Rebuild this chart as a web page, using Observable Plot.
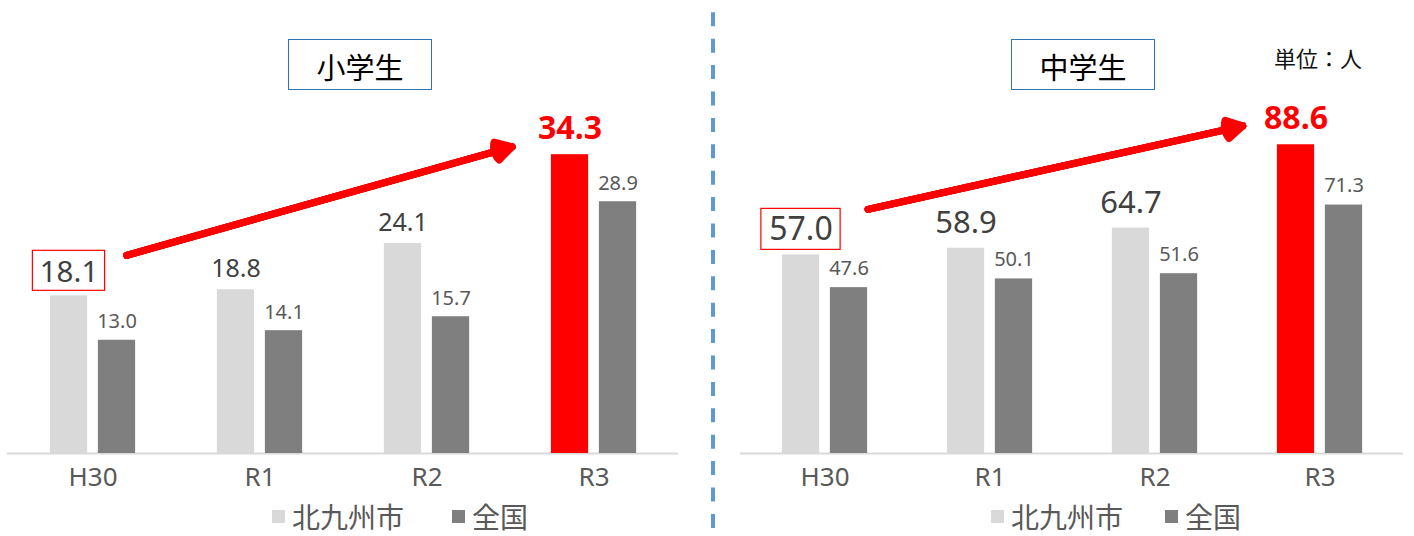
<!DOCTYPE html>
<html><head><meta charset="utf-8">
<script src="https://cdn.jsdelivr.net/npm/d3@7"></script>
<script src="https://cdn.jsdelivr.net/npm/@observablehq/plot@0.6"></script>
<style>
html,body{margin:0;padding:0;background:#fff;}
#wrap{position:relative;width:1414px;height:536px;overflow:hidden;font-family:"Noto Sans CJK JP","Noto Sans",sans-serif;}
.title{position:absolute;box-sizing:border-box;border:1.5px solid #2e75b6;display:flex;align-items:center;justify-content:center;font-size:29px;color:#000;padding-top:4px;line-height:1;}
.legend-item{position:absolute;display:flex;align-items:center;font-size:28px;color:#595959;line-height:28px;white-space:nowrap;}
.swatch{width:13px;height:13px;margin-right:7px;}
.unit{position:absolute;font-size:22px;line-height:22px;color:#111;white-space:nowrap;}
</style></head><body><div id="wrap"></div>
<script>
// ---- data ----
const categories = ["H30", "R1", "R2", "R3"];
const seriesNames = ["北九州市", "全国"];
const seriesColors = ["#d9d9d9", "#7f7f7f"];
const highlightColor = "#ff0000";
const elementaryCity = [18.1, 18.8, 24.1, 34.3];
const elementaryNation = [13.0, 14.1, 15.7, 28.9];
const juniorCity = [57.0, 58.9, 64.7, 88.6];
const juniorNation = [47.6, 50.1, 51.6, 71.3];
const panelTitles = ["小学生", "中学生"];
const unitText = "単位：人";
const yMax = [52, 130];

const NUM_FONT = "'Noto Sans', sans-serif";
const wrap = document.getElementById("wrap");
const hasAxisMark = typeof Plot.axisX === "function";

function makePanel(o) {
  const {city, nation, yTop, width, ml, mr, t} = o;
  const H = 536, MB = 83;
  const first = categories[0], last = categories[categories.length - 1];
  const rows = categories.map((c, i) => ({cat: c, city: city[i], nation: nation[i]}));
  const bw = (width - ml - mr) / categories.length;
  const barW = 38, gap = 10, off = (barW + gap) / 2;
  const inset = (bw - barW) / 2;
  const fmt = v => v.toFixed(1);
  const arrowData = [{x1: first, y1: city[0], x2: last, y2: city[city.length - 1]}];
  const marks = [
    Plot.ruleY([0], {stroke: "#d9d9d9", strokeWidth: 2}),
    Plot.barY(rows, {filter: d => d.cat !== last, x: "cat", y: "city", fill: seriesColors[0], insetLeft: inset, insetRight: inset, dx: -off}),
    Plot.barY(rows, {filter: d => d.cat === last, x: "cat", y: "city", fill: highlightColor, insetLeft: inset, insetRight: inset, dx: -off}),
    Plot.barY(rows, {x: "cat", y: "nation", fill: seriesColors[1], insetLeft: inset, insetRight: inset, dx: off}),
    Plot.text(rows, {x: "cat", y: "nation", text: d => fmt(d.nation), dx: off, dy: -t.smallDy, lineAnchor: "bottom", fontSize: 20, fill: "#595959", fontFamily: NUM_FONT}),
    Plot.text(rows, {filter: d => d.cat !== first && d.cat !== last, x: "cat", y: "city", text: d => fmt(d.city), dx: -off, dy: -t.midDy, lineAnchor: "bottom", fontSize: t.midSize, fill: "#404040", fontFamily: NUM_FONT}),
    Plot.text(rows, {filter: d => d.cat === first, x: "cat", y: "city", text: d => fmt(d.city), dx: -off, dy: -t.boxDy, lineAnchor: "bottom", fontSize: t.boxSize, fill: "#404040", fontFamily: NUM_FONT}),
    Plot.barY(rows, {filter: d => d.cat === first, x: "cat", y1: "city", y2: "city", dx: -off, insetLeft: inset - t.boxExt, insetRight: inset - t.boxExt, insetTop: -t.boxTop, insetBottom: t.boxBottom, fill: "none", stroke: highlightColor, strokeWidth: 1.2}),
    Plot.text(rows, {filter: d => d.cat === last, x: "cat", y: "city", text: d => fmt(d.city), dx: -off, dy: -t.redDy, lineAnchor: "bottom", fontSize: t.redSize, fontWeight: "bold", fill: highlightColor, fontFamily: NUM_FONT}),
    ...[60, 45, 30, 15].map(a => Plot.arrow(arrowData, {x1: "x1", y1: "y1", x2: "x2", y2: "y2", stroke: highlightColor, strokeWidth: 7, headAngle: a, headLength: 4, insetStart: t.aStart, insetEnd: t.aEnd, dy: t.aDy}))
  ];
  if (hasAxisMark) {
    marks.push(Plot.axisX({tickSize: 0, tickPadding: 14, fontSize: 26, fill: "#595959", fontFamily: NUM_FONT, label: null}));
  }
  return Plot.plot({
    width, height: H, marginLeft: ml, marginRight: mr, marginTop: 0, marginBottom: MB,
    style: {fontFamily: NUM_FONT, fontSize: "26px", color: "#595959", background: "transparent", overflow: "visible"},
    x: hasAxisMark ? {domain: categories, padding: 0, axis: null} : {domain: categories, padding: 0, tickSize: 0, tickPadding: 14, label: null},
    y: {domain: [0, yTop], axis: null},
    marks
  });
}

const panels = [
  {city: elementaryCity, nation: elementaryNation, yTop: yMax[0], left: 0, width: 700, ml: 7, mr: 22,
   t: {smallDy: 12, midDy: 13, midSize: 25, boxSize: 29.5, boxDy: 14, boxExt: 17.5, boxTop: 45, boxBottom: 5, redSize: 32, redDy: 16, aDy: -31, aStart: 35, aEnd: 85},
   title: {left: 288, width: 144}, legend: [272, 452]},
  {city: juniorCity, nation: juniorNation, yTop: yMax[1], left: 720, width: 694, ml: 20, mr: 11,
   t: {smallDy: 13, midDy: 15, midSize: 31, boxSize: 32, boxDy: 15, boxExt: 21, boxTop: 46, boxBottom: 5, redSize: 32, redDy: 16, aDy: -36, aStart: 44, aEnd: 79},
   title: {left: 1011, width: 144}, legend: [991, 1165]}
];

panels.forEach((p, pi) => {
  const svg = makePanel(p);
  svg.style.position = "absolute";
  svg.style.left = p.left + "px";
  svg.style.top = "0px";
  wrap.appendChild(svg);

  const tb = document.createElement("div");
  tb.className = "title";
  tb.style.left = p.title.left + "px";
  tb.style.top = "39px";
  tb.style.width = p.title.width + "px";
  tb.style.height = "51px";
  tb.textContent = panelTitles[pi];
  wrap.appendChild(tb);

  seriesNames.forEach((name, si) => {
    const item = document.createElement("div");
    item.className = "legend-item";
    item.style.left = p.legend[si] + "px";
    item.style.top = "502px";
    const sw = document.createElement("span");
    sw.className = "swatch";
    sw.style.background = seriesColors[si];
    const tx = document.createElement("span");
    tx.textContent = name;
    item.appendChild(sw);
    item.appendChild(tx);
    wrap.appendChild(item);
  });
});

// unit label
const u = document.createElement("div");
u.className = "unit";
u.style.left = "1274px";
u.style.top = "46px";
u.textContent = unitText;
wrap.appendChild(u);

// dashed divider
const ns = "http://www.w3.org/2000/svg";
const dv = document.createElementNS(ns, "svg");
dv.setAttribute("width", 8); dv.setAttribute("height", 536);
dv.style.position = "absolute"; dv.style.left = "709px"; dv.style.top = "0px";
const ln = document.createElementNS(ns, "line");
ln.setAttribute("x1", 4); ln.setAttribute("x2", 4); ln.setAttribute("y1", 12.3); ln.setAttribute("y2", 536);
ln.setAttribute("stroke", "#5b9bd5"); ln.setAttribute("stroke-width", 4);
ln.setAttribute("stroke-dasharray", "14 12.4");
dv.appendChild(ln);
wrap.appendChild(dv);
</script></body></html>
